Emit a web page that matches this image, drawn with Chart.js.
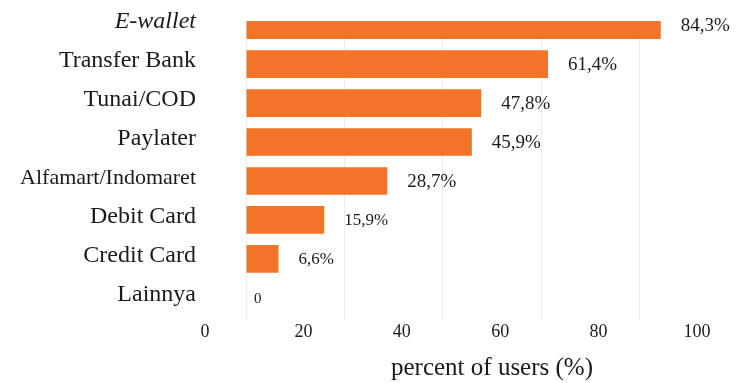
<!DOCTYPE html>
<html>
<head>
<meta charset="utf-8">
<script src="https://cdn.jsdelivr.net/npm/chart.js@4/dist/chart.umd.min.js"></script>
<style>
  html, body { margin: 0; padding: 0; background: #fff; }
  #wrap { width: 738px; height: 383px; }
</style>
</head>
<body>
<div id="wrap"><canvas id="payChart"></canvas></div>
<script>
// data
const categories = ['E-wallet', 'Transfer Bank', 'Tunai/COD', 'Paylater', 'Alfamart/Indomaret', 'Debit Card', 'Credit Card', 'Lainnya'];
const percentUsers = [84.3, 61.4, 47.8, 45.9, 28.7, 15.9, 6.6, 0];
const valueLabels = ['84,3%', '61,4%', '47,8%', '45,9%', '28,7%', '15,9%', '6,6%', '0'];
const xTicks = [0, 20, 40, 60, 80, 100];

const serif = '"Liberation Serif", "DejaVu Serif", serif';
const orange = '#F37329';

// value labels at the end of each bar
const endLabels = {
    id: 'endLabels',
    afterDatasetsDraw(chart) {
        const ctx = chart.ctx;
        const meta = chart.getDatasetMeta(0);
        ctx.save();
        ctx.fillStyle = '#1a1a1a';
        ctx.textBaseline = 'middle';
        ctx.textAlign = 'left';
        meta.data.forEach((bar, i) => {
            const v = percentUsers[i];
            ctx.font = (v === 0 ? '15px ' : v < 20 ? '17px ' : '19px ') + serif;
            const gap = v === 0 ? 8 : 20;
            ctx.fillText(valueLabels[i], bar.x + gap, bar.y + 1);
        });
        ctx.restore();
    }
};

const ctx = document.getElementById('payChart').getContext('2d');
const payChart = new Chart(ctx, {
    type: 'bar',
    data: {
        datasets: [{
            data: percentUsers.map((v, i) => ({ x: v, y: i })),
            backgroundColor: orange,
            borderWidth: 0,
            categoryPercentage: 1,
            barPercentage: 0.71
        }]
    },
    options: {
        indexAxis: 'y',
        responsive: true,
        maintainAspectRatio: false,
        animation: false,
        layout: { padding: { top: 21, right: 0, bottom: 0, left: 0 } },
        plugins: {
            legend: { display: false },
            tooltip: { enabled: false }
        },
        scales: {
            x: {
                type: 'linear',
                min: 0,
                max: 100,
                afterBuildTicks(scale) {
                    scale.ticks = xTicks.map(v => ({ value: v }));
                },
                afterFit(scale) {
                    scale.paddingLeft = 0;
                    scale.paddingRight = 0;
                },
                border: { display: false },
                grid: { color: '#ececec', drawTicks: false },
                ticks: {
                    color: '#1a1a1a',
                    font: { family: serif, size: 18 },
                    labelOffset: -41,
                    padding: 1
                },
                title: {
                    display: true,
                    text: 'percent of users (%)',
                    color: '#1a1a1a',
                    font: { family: serif, size: 25 },
                    padding: { top: 9, bottom: 0 }
                }
            },
            y: {
                type: 'linear',
                reverse: true,
                offset: false,
                min: -0.107,
                max: 7.58,
                afterBuildTicks(scale) {
                    scale.ticks = categories.map((c, i) => ({ value: i }));
                },
                afterFit(scale) {
                    scale.width = 246;
                    scale.paddingTop = 0;
                    scale.paddingBottom = 0;
                },
                border: { display: false },
                grid: { display: false, drawTicks: false, offset: false },
                ticks: {
                    color: '#1a1a1a',
                    padding: 50,
                    labelOffset: -3,
                    font: (c) => {
                        const i = c.index;
                        if (i === 0) return { family: serif, size: 24, style: 'italic' };
                        if (i === 4) return { family: serif, size: 22 };
                        return { family: serif, size: 24 };
                    },
                    callback: (v) => categories[v]
                }
            }
        }
    },
    plugins: [endLabels]
});
</script>
</body>
</html>
